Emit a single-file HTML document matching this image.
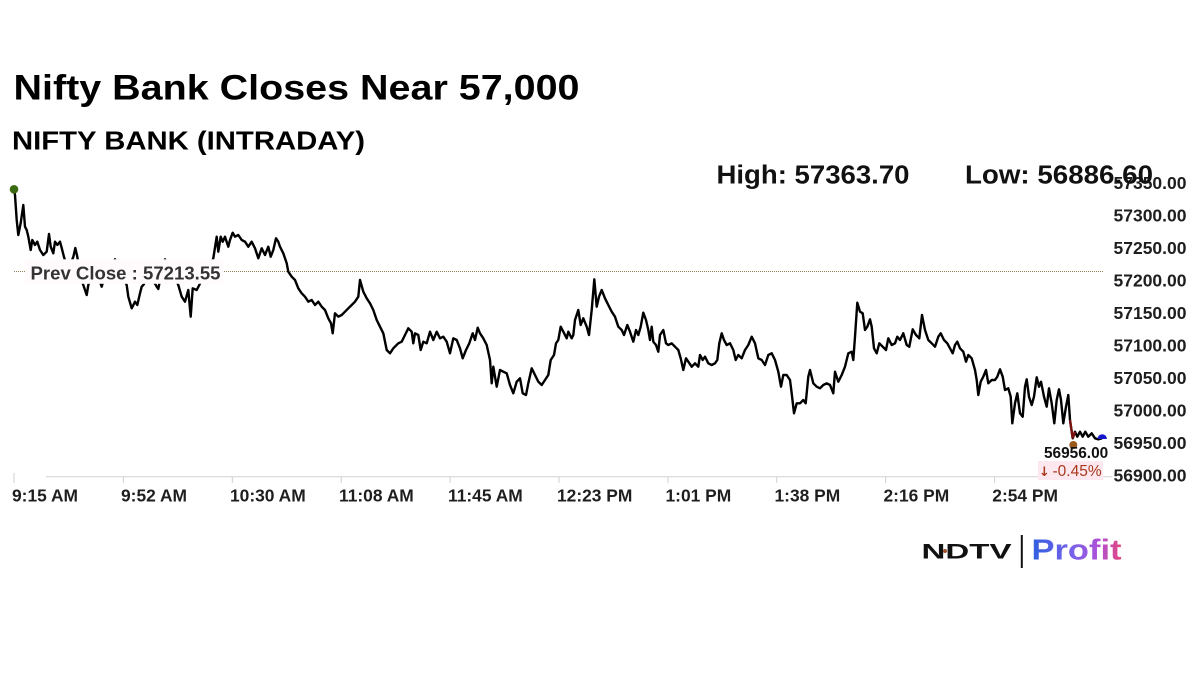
<!DOCTYPE html>
<html>
<head>
<meta charset="utf-8">
<style>
html,body{margin:0;padding:0;background:#fff;}
svg{display:block;}
</style>
</head>
<body>
<svg width="1200" height="675" viewBox="0 0 1200 675" xmlns="http://www.w3.org/2000/svg">
<defs>
<linearGradient id="pg" x1="0" y1="0" x2="1" y2="0">
<stop offset="0" stop-color="#2f5fe0"/>
<stop offset="0.45" stop-color="#7a62ea"/>
<stop offset="0.75" stop-color="#b050d8"/>
<stop offset="1" stop-color="#e4467a"/>
</linearGradient>
</defs>
<rect width="1200" height="675" fill="#fff"/>

<!-- Titles -->
<text x="13.5" y="99.5" font-family="Liberation Sans, sans-serif" font-weight="bold" font-size="35" fill="#000" textLength="566" lengthAdjust="spacingAndGlyphs">Nifty Bank Closes Near 57,000</text>
<text x="12" y="149.3" font-family="Liberation Sans, sans-serif" font-weight="bold" font-size="25.5" fill="#000" textLength="353" lengthAdjust="spacingAndGlyphs">NIFTY BANK (INTRADAY)</text>

<!-- X axis -->
<line x1="46" y1="476.7" x2="1112" y2="476.7" stroke="#d2d2d2" stroke-width="1"/>
<g stroke="#cfcfcf" stroke-width="1">
<line x1="14" y1="473" x2="14" y2="483"/>
<line x1="123.3" y1="477" x2="123.3" y2="483"/>
<line x1="232.3" y1="477" x2="232.3" y2="483"/>
<line x1="341.2" y1="477" x2="341.2" y2="483"/>
<line x1="450.1" y1="477" x2="450.1" y2="483"/>
<line x1="559" y1="477" x2="559" y2="483"/>
<line x1="667.9" y1="477" x2="667.9" y2="483"/>
<line x1="776.8" y1="477" x2="776.8" y2="483"/>
<line x1="885.7" y1="477" x2="885.7" y2="483"/>
<line x1="994.6" y1="477" x2="994.6" y2="483"/>
</g>
<g font-family="Liberation Sans, sans-serif" font-weight="bold" font-size="17.4" fill="#1e1e1e">
<text x="12" y="501.7">9:15 AM</text>
<text x="121" y="501.7">9:52 AM</text>
<text x="230" y="501.7">10:30 AM</text>
<text x="339" y="501.7">11:08 AM</text>
<text x="448" y="501.7">11:45 AM</text>
<text x="557" y="501.7">12:23 PM</text>
<text x="665.5" y="501.7">1:01 PM</text>
<text x="774.5" y="501.7">1:38 PM</text>
<text x="883.5" y="501.7">2:16 PM</text>
<text x="992.3" y="501.7">2:54 PM</text>
</g>

<!-- Prev close dotted line -->
<line x1="14" y1="271.5" x2="1103" y2="271.5" stroke="#8f7f55" stroke-width="1" stroke-dasharray="1,1"/>

<!-- Series -->
<polyline fill="none" stroke="#000" stroke-width="2.4" stroke-linejoin="round" stroke-linecap="round" points="14,189.3 15,195 16.7,220 18.3,235 20.7,223 23.3,205 25,226.7 26.7,230 28.3,236.7 30.7,250 32.3,240 35,245 37.3,241.7 40,250 43.3,255 46.7,251.7 49,234 50.7,246.7 53.3,253.3 55,241.7 57.3,245 60,241.7 61.7,248 64,257 68,270 73.3,257 75.3,248 77.3,256.7 80,275 83.3,285 86.7,295 88.3,285 92,275 96,270 101.7,286.7 105,275 110,268 115,259.3 120,272 126.7,285 128.3,296.7 131.7,308.3 135,301.7 137.3,305 140,293.3 141.7,286.7 143.3,285 148,278 153,280 156.7,286.7 158.3,289 161,275 165,259.3 170,270 175,278 178.3,285 181.7,296.7 185,301.7 188.3,290 190.7,316.7 192.7,288.3 196.7,290 199.3,285 203,278 208,272 213.3,258.3 216.7,236.7 218.3,251.7 220.7,236.7 222.7,241.7 225,236.7 228.3,246.7 230,240 232.7,232.7 235,236.7 238.3,235 241.7,240 245,241.7 248.3,246.7 251.7,241.7 255,248.3 258.3,258.3 261.7,248.3 265,255 268.3,246.7 270.7,256.7 273.3,250 276,238.3 278.3,241.7 280,246.7 283.3,253.3 286.7,263.3 288.3,271.7 291.7,276.7 295,280 298.3,288.3 301.7,293.3 305,296.7 308.3,301.7 311.7,300 315,305 318.3,301.7 321.7,306.7 325,310 328.3,318.3 331,323.3 332.7,333.3 335,313.3 338.3,316.7 341.7,315 345,311.7 348.3,308.3 351.7,305 355,301.7 358.3,296.7 360,280 363.3,291.7 366.7,298.3 370,303.3 373.3,310 376.7,320 380,326.7 383.3,333.3 386.7,350 390,353.3 393.3,348.3 398.3,343.3 401.7,341.7 405,335 408.3,328.3 411.7,331.7 413.3,343.3 415,333.3 418.3,335 420.7,350 423.3,341.7 426.7,343.3 430,331.7 433.3,340 436.7,331.7 440,338.3 443.3,336.7 446.7,341.7 450,353.3 453.3,338.3 456.7,340 460,348.3 462.7,358.3 466,350 469.3,343.3 472.7,333.3 475,340 477.7,327.7 480,333.3 483.3,338.3 486.7,345 490,360 491.7,383.3 493.3,366.7 496.7,386.7 500,370 503.3,371.7 506.7,373.3 510,385 513.3,393.3 516.7,381.7 520,378.3 522.7,393.3 526,395 528.3,383.3 531.7,368.3 535,375 538.3,381.7 541.7,385 545,380 548.3,375 550.7,360 554,355 556,343.3 558.3,340 560.7,326.7 563.3,331.7 566.7,338.3 568.3,331.7 571.7,338.3 573.3,335 575,320 578.3,310 580.7,325 583.3,318.3 586.7,326.7 589,335 591.7,310 594.3,279.3 596.7,306.7 599,296.7 601.7,290 605,298.3 608.3,305 611.7,311.7 615,316.7 618.3,326.7 621.7,330 624,335 627.3,325 630,331.7 633.3,341.7 636,330 638.3,335 640.7,326.7 643.3,312.7 646,320 648.3,330 650,340 651.7,326.7 653.3,341.7 656,345 658.3,351.7 660,335 663.3,330 666,343.3 668.3,345 671.7,343.3 675,346.7 678.3,350 680.7,358.3 683.3,370 686,358.3 688.3,361.7 691.7,366.7 695,363.3 698.3,366.7 700,355 702.7,360 705,356.7 708.3,363.3 711.7,365 715,363.3 717.3,360 719.3,343.3 721.7,333.3 724,340 726.7,345 730,343.3 733.3,350 735.7,360 738.3,355 741.7,358.3 745,350 748.3,345 751.7,336.7 755,343.3 758.3,358.3 761.7,360 765,365 768.3,355 771.7,353.3 775,360 778.3,371.7 781,386.7 783.3,375 786.7,375 790,380 791.7,393.3 794,413.3 796.7,403.3 800,403.3 803.3,400 805.7,403.3 808.3,376.7 810,370 813.3,383.3 816.7,386.7 820,388.3 823.3,385 826.7,383.3 830,385 833.3,393.3 835,371.7 838.3,381.7 841.7,375 845,366.7 848.3,353.3 851.7,351.7 853.3,360 855,336.7 857.3,302.7 860,311.7 862.7,313.3 865,330 867.3,326.7 870,319.3 871.7,326.7 874,348.3 876.7,353.3 879.3,343.3 882.7,346.7 886,350 888.3,338.3 891.7,345 895,343.3 897.3,336.7 900,340 903.3,333.3 906.7,345 909.3,346.7 912.7,329.3 916,335 919.3,338.3 922,315 925,330 928.3,340 931.7,343.3 935,346.7 938.3,336.7 940.7,333.3 944,340 947.3,343.3 950,348.3 952.7,353.3 955,345 957.3,341.7 960,348.3 963.3,351.7 966,361.7 968.3,355 971.7,358.3 975,370 976.7,380 978.3,395 980.7,381.7 983.3,376.7 986,370 988.3,383.3 991.7,380 995,380 997.3,376.7 1000,369.3 1002.7,376.7 1005,390 1008.3,388.3 1010.7,396.7 1012.3,423.3 1015,403.3 1017.3,393.3 1020,413.3 1022.7,416.7 1025,386.7 1026.7,379.3 1029,396.7 1031.7,405 1034,396.7 1036.7,377.3 1039,386.7 1041,381.7 1044,396.7 1046.7,406.7 1049,388.3 1051.7,403.3 1054.3,423.3 1056.7,400 1059,389.3 1061,400 1063.3,423.3 1066,406.7 1068.3,395 1070,420 1072.7,438.3 1075,431.7 1077.3,436.7 1080,431.7 1082.7,436.7 1085.3,431.7 1088.3,436.7 1091.7,433.3 1095,438.3 1098.3,439.3 1101.7,438.3"/>
<polyline fill="none" stroke="#7a1010" stroke-width="2.4" points="1070,420 1072.7,438.3 1075,431.7"/>

<!-- Prev close label box -->
<rect x="25" y="259.3" width="198" height="24.5" fill="#fffbfc"/>
<text x="30.5" y="279.3" font-family="Liberation Sans, sans-serif" font-weight="bold" font-size="18.5" fill="#333" textLength="190" lengthAdjust="spacingAndGlyphs">Prev Close : 57213.55</text>

<!-- Markers -->
<circle cx="14" cy="189.3" r="4.3" fill="#3b6a12"/>
<circle cx="1073.3" cy="445" r="4" fill="#9a5a1e"/>
<path d="M1097.5,439 A4.7,4.7 0 0 1 1106.9,439 Z" fill="#1616cc"/>

<!-- Last value labels -->
<text x="1044" y="458.2" font-family="Liberation Sans, sans-serif" font-weight="bold" font-size="15.4" fill="#111">56956.00</text>
<rect x="1038" y="461" width="65" height="19" fill="#fde8f0"/>
<text x="1039" y="476" font-family="DejaVu Sans, sans-serif" font-weight="bold" font-size="13" fill="#a8381c">↓</text>
<text x="1052.5" y="476" font-family="Liberation Sans, sans-serif" font-size="15.5" fill="#a8381c">-0.45%</text>

<!-- Y axis labels -->
<g font-family="Liberation Sans, sans-serif" font-weight="bold" font-size="17.5" fill="#1e1e1e">
<text x="1113.5" y="189.2">57350.00</text>
<text x="1113.5" y="221.7">57300.00</text>
<text x="1113.5" y="254.2">57250.00</text>
<text x="1113.5" y="286.7">57200.00</text>
<text x="1113.5" y="319.2">57150.00</text>
<text x="1113.5" y="351.7">57100.00</text>
<text x="1113.5" y="384.2">57050.00</text>
<text x="1113.5" y="416.7">57000.00</text>
<text x="1113.5" y="449.2">56950.00</text>
<text x="1113.5" y="481.7">56900.00</text>
</g>

<!-- High / Low -->
<text x="716.5" y="183.3" font-family="Liberation Sans, sans-serif" font-weight="bold" font-size="25.5" fill="#111" textLength="193" lengthAdjust="spacingAndGlyphs">High: 57363.70</text>
<text x="965" y="183.3" font-family="Liberation Sans, sans-serif" font-weight="bold" font-size="25.5" fill="#111" textLength="188" lengthAdjust="spacingAndGlyphs">Low: 56886.60</text>

<!-- Logo -->
<text x="921.5" y="558.5" font-family="Liberation Sans, sans-serif" font-weight="bold" font-size="21" fill="#111" textLength="90" lengthAdjust="spacingAndGlyphs">NDTV</text>
<circle cx="945" cy="551" r="2" fill="#a0522d"/>
<rect x="1020.8" y="535" width="2" height="33" fill="#111"/>
<text x="1031.5" y="559.3" font-family="Liberation Sans, sans-serif" font-weight="bold" font-size="29" fill="url(#pg)" textLength="90" lengthAdjust="spacingAndGlyphs">Profit</text>
</svg>
</body>
</html>
